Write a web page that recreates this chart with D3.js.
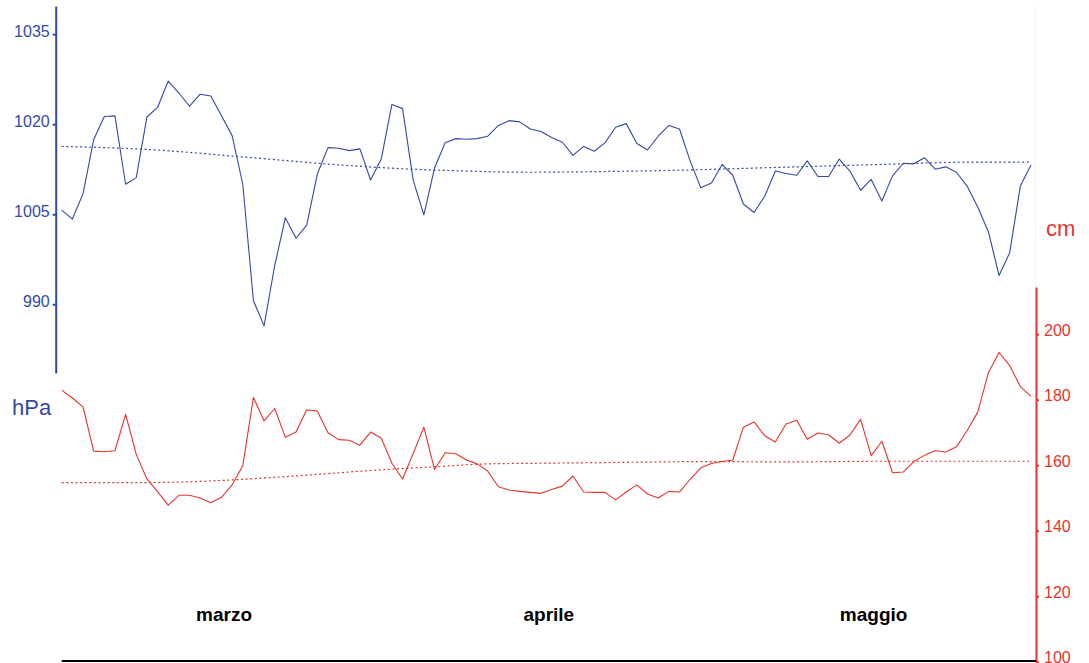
<!DOCTYPE html>
<html>
<head>
<meta charset="utf-8">
<script src="https://cdn.jsdelivr.net/npm/d3@7"></script>
<style>
  body { margin: 0; background: #fff; }
  svg { display: block; }
  text { font-family: "Liberation Sans", Arial, sans-serif; }
</style>
</head>
<body>
<svg id="chart" width="1089" height="663"></svg>
<script>
// Daily readings, 1 March – 31 May
const firstDay = new Date(2019, 2, 1);

// Atmospheric pressure (hPa)
const pressure = [
  1005.7, 1004.2, 1008.4, 1017.4, 1021.3, 1021.4, 1010.0, 1011.1, 1021.2, 1022.8,
  1027.2, 1025.2, 1023.0, 1025.0, 1024.7, 1021.4, 1018.1, 1010.0, 990.6, 986.4,
  996.5, 1004.4, 1001.0, 1003.2, 1011.7, 1016.1, 1016.0, 1015.6, 1015.9, 1010.7,
  1014.2, 1023.3, 1022.6, 1010.7, 1004.9, 1012.7, 1016.9, 1017.6, 1017.5, 1017.6,
  1018.0, 1019.8, 1020.6, 1020.4, 1019.2, 1018.8, 1017.8, 1017.0, 1014.8, 1016.3,
  1015.5, 1016.9, 1019.5, 1020.1, 1016.8, 1015.7, 1018.0, 1019.8, 1019.2, 1013.9,
  1009.4, 1010.2, 1013.3, 1011.5, 1006.7, 1005.3, 1008.0, 1012.2, 1011.8, 1011.5,
  1013.9, 1011.3, 1011.3, 1014.2, 1012.2, 1009.0, 1010.8, 1007.2, 1011.4, 1013.5,
  1013.4, 1014.4, 1012.5, 1012.9, 1012.0, 1009.7, 1006.2, 1002.1, 994.8, 998.6,
  1009.7, 1013.2
];

// Sea level (cm)
const seaLevel = [
  182.9, 180.5, 177.8, 164.3, 164.1, 164.4, 175.5, 163.3, 155.8, 151.9,
  147.8, 150.8, 150.8, 150.0, 148.5, 150.2, 154.0, 159.8, 180.7, 173.5,
  177.3, 168.5, 170.1, 176.9, 176.5, 169.9, 167.8, 167.6, 166.1, 170.1,
  168.2, 160.6, 155.8, 163.6, 171.6, 158.7, 163.8, 163.5, 161.6, 160.4,
  158.2, 153.4, 152.4, 152.0, 151.7, 151.4, 152.6, 153.6, 156.7, 151.8,
  151.7, 151.7, 149.4, 151.8, 154.0, 151.2, 150.0, 152.0, 151.8, 155.7,
  159.2, 160.5, 161.1, 161.5, 171.6, 173.2, 169.0, 167.1, 172.6, 173.7,
  167.9, 169.8, 169.3, 166.7, 169.2, 174.0, 162.9, 167.3, 157.7, 157.9,
  161.1, 163.0, 164.4, 164.0, 165.6, 170.5, 176.2, 188.2, 194.4, 190.4,
  184.0, 181.0
];

// Seasonal normals, sampled by day number from 1 March
const pressureNormalDay = [0, 8, 18, 27, 33, 38, 44, 50, 57, 67, 77, 86, 91];
const pressureNormal    = [1016.3, 1015.8, 1014.4, 1013.1, 1012.5, 1012.2, 1012.0, 1012.1, 1012.3, 1012.8, 1013.3, 1013.7, 1013.7];
const seaNormalDay = [0, 8, 16, 21, 31, 35, 40, 45, 51, 61, 68, 77, 91];
const seaNormal    = [154.7, 154.7, 155.5, 156.5, 158.8, 159.5, 160.4, 160.6, 160.8, 161.1, 161.0, 161.2, 161.2];

const monthNames = ["marzo", "aprile", "maggio"];
const pressureTicks = [990, 1005, 1020, 1035];
const seaTicks = [100, 120, 140, 160, 180, 200];

const blue = "#3349a6";
const red = "#e3342c";

const svg = d3.select("#chart");
const day = i => d3.timeDay.offset(firstDay, i);
const lastDay = day(pressure.length - 1);

const x = d3.scaleTime().domain([firstDay, lastDay]).range([61.7, 1031]);
const yP = d3.scaleLinear().domain([978.55, 1039.7]).range([373, 6]);
const yS = d3.scaleLinear().domain([100, 214.4]).range([661.7, 287]);
const xMonth = d3.scaleBand().domain(monthNames).range([61.7, 1036]);

// faint guide on the right edge
svg.append("line")
  .attr("x1", 1035.5).attr("x2", 1035.5).attr("y1", 6).attr("y2", 287)
  .attr("stroke", "#f2f2f2").attr("stroke-width", 1);

// pressure axis
const axP = svg.append("g")
  .attr("transform", "translate(55.7,0)")
  .call(d3.axisLeft(yP).tickValues(pressureTicks).tickFormat(d3.format("d"))
    .tickSize(3).tickSizeOuter(0).tickPadding(3));
axP.select(".domain").attr("stroke", blue).attr("stroke-width", 2);
axP.selectAll(".tick line").attr("stroke", blue).attr("stroke-width", 2);
axP.selectAll(".tick text").attr("fill", blue).attr("font-size", 16).attr("dy", "0.12em")
  .style("font-family", "'Liberation Sans', Arial, sans-serif");

// sea level axis
const axS = svg.append("g")
  .attr("transform", "translate(1036,0)")
  .call(d3.axisRight(yS).tickValues(seaTicks).tickFormat(d3.format("d"))
    .tickSize(3).tickSizeOuter(0).tickPadding(5));
axS.select(".domain").attr("stroke", red).attr("stroke-width", 2);
axS.selectAll(".tick line").attr("stroke", red).attr("stroke-width", 2);
axS.selectAll(".tick text").attr("fill", red).attr("font-size", 16).attr("dy", "0.06em")
  .style("font-family", "'Liberation Sans', Arial, sans-serif");

// unit labels
svg.append("text").attr("x", 12).attr("y", 415).attr("fill", blue)
  .attr("font-size", 22).text("hPa");
svg.append("text").attr("x", 1046).attr("y", 236).attr("fill", red)
  .attr("font-size", 22).text("cm");

// time axis baseline
svg.append("line")
  .attr("x1", 61.7).attr("x2", 1036).attr("y1", 661).attr("y2", 661)
  .attr("stroke", "#000").attr("stroke-width", 2);

// month labels, one per band along the time axis
svg.append("g").selectAll("text")
  .data(monthNames)
  .join("text")
  .attr("x", m => xMonth(m) + xMonth.bandwidth() / 2)
  .attr("y", 621)
  .attr("text-anchor", "middle")
  .attr("font-size", 19)
  .attr("font-weight", "bold")
  .attr("fill", "#000")
  .text(m => m);

// normals (dotted)
const normalLine = ys => d3.line()
  .x(d => x(day(d[0])))
  .y(d => ys(d[1]))
  .curve(d3.curveMonotoneX);

svg.append("path")
  .datum(d3.zip(pressureNormalDay, pressureNormal))
  .attr("d", normalLine(yP))
  .attr("fill", "none").attr("stroke", blue).attr("stroke-width", 1.2)
  .attr("stroke-dasharray", "2,2.6");

svg.append("path")
  .datum(d3.zip(seaNormalDay, seaNormal))
  .attr("d", normalLine(yS))
  .attr("fill", "none").attr("stroke", red).attr("stroke-width", 1.2)
  .attr("stroke-dasharray", "2,2.6");

// daily series
const seriesLine = ys => d3.line()
  .x((d, i) => x(day(i)))
  .y(d => ys(d));

svg.append("path")
  .datum(pressure)
  .attr("d", seriesLine(yP))
  .attr("fill", "none").attr("stroke", blue).attr("stroke-width", 1.1)
  .attr("stroke-linejoin", "round");

svg.append("path")
  .datum(seaLevel)
  .attr("d", seriesLine(yS))
  .attr("fill", "none").attr("stroke", red).attr("stroke-width", 1.1)
  .attr("stroke-linejoin", "round");
</script>
</body>
</html>
